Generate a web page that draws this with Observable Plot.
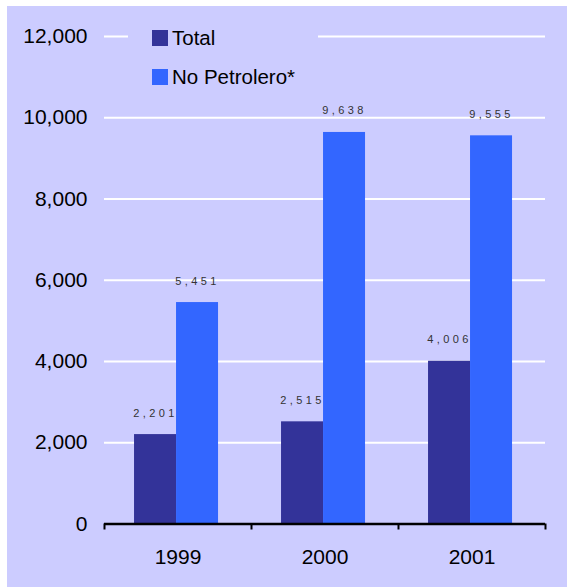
<!DOCTYPE html>
<html>
<head>
<meta charset="utf-8">
<script src="https://cdn.jsdelivr.net/npm/d3@7"></script>
<script src="https://cdn.jsdelivr.net/npm/@observablehq/plot@0.6"></script>
<style>
  html, body { margin: 0; padding: 0; background: #ffffff; }
  body { width: 567px; height: 587px; position: relative; overflow: hidden; font-family: "Liberation Sans", Arial, sans-serif; }
  #panel { position: absolute; left: 7px; top: 6px; width: 560px; height: 581px; background: #ccccff; }
  #legend { position: absolute; left: 128px; top: 22px; width: 190px; height: 70px; background: #ccccff; }
  .item { position: absolute; left: 24px; height: 16px; display: flex; align-items: center; font-size: 20.5px; color: #000; white-space: nowrap; }
  .sw { width: 16px; height: 16px; margin-right: 4px; flex: none; }
</style>
</head>
<body>
<div id="panel"></div>
<div id="legend"></div>
<script>
// Data
const years = [1999, 2000, 2001];
const totalValues = [2201, 2515, 4006];
const noPetroleroValues = [5451, 9638, 9555];
const seriesNames = ["Total", "No Petrolero*"];
const seriesColors = ["#333399", "#3366ff"];
const yTicks = [0, 2000, 4000, 6000, 8000, 10000, 12000];

const barWidth = 42 / 147; // fraction of a year band
const shift = -0.01;

const rows = [];
years.forEach((yr, i) => {
  rows.push({year: yr, series: seriesNames[0], value: totalValues[i], x1: yr + shift - barWidth, x2: yr + shift});
  rows.push({year: yr, series: seriesNames[1], value: noPetroleroValues[i], x1: yr + shift, x2: yr + shift + barWidth});
});
const boundaries = [years[0] - 0.5, ...years.map(y => y + 0.5)];
const fmt = d3.format(",");

const chart = Plot.plot({
  width: 560,
  height: 581,
  marginLeft: 97,
  marginRight: 22,
  marginTop: 30,
  marginBottom: 63.5,
  style: {background: "transparent", fontFamily: "'Liberation Sans', Arial, sans-serif", color: "#000"},
  x: {type: "linear", domain: [boundaries[0], boundaries[boundaries.length - 1]]},
  y: {domain: [0, 12000]},
  color: {domain: seriesNames, range: seriesColors},
  marks: [
    Plot.ruleY(yTicks.filter(d => d > 0), {stroke: "#ffffff", strokeWidth: 2}),
    Plot.rectY(rows, {x1: "x1", x2: "x2", y: "value", fill: "series"}),
    Plot.text(rows, {
      x: d => (d.x1 + d.x2) / 2, y: "value", text: d => fmt(d.value),
      lineAnchor: "bottom", dy: -18, fontSize: 11, fill: "#333333"
    }),
    Plot.axisY({ticks: yTicks, tickFormat: fmt, tickSize: 0, tickPadding: 17, fontSize: 21, label: null}),
    Plot.axisX({ticks: boundaries, tickSize: 6, tickFormat: () => "", stroke: "#000", strokeWidth: 2, label: null}),
    Plot.axisX({ticks: years, tickSize: 0, tickPadding: 25, tickFormat: d => String(d), fontSize: 21, label: null}),
    Plot.ruleY([0], {stroke: "#000", strokeWidth: 2.5})
  ]
});

d3.select(chart).selectAll('g[aria-label="text"] text').style("letter-spacing", "3.4px");
document.getElementById("panel").appendChild(chart);

// Legend
const legend = document.getElementById("legend");
seriesNames.forEach((name, i) => {
  const item = document.createElement("div");
  item.className = "item";
  item.style.top = (8 + i * 39) + "px";
  const sw = document.createElement("div");
  sw.className = "sw";
  sw.style.background = seriesColors[i];
  const label = document.createElement("span");
  label.textContent = name;
  item.appendChild(sw);
  item.appendChild(label);
  legend.appendChild(item);
});
</script>
</body>
</html>
